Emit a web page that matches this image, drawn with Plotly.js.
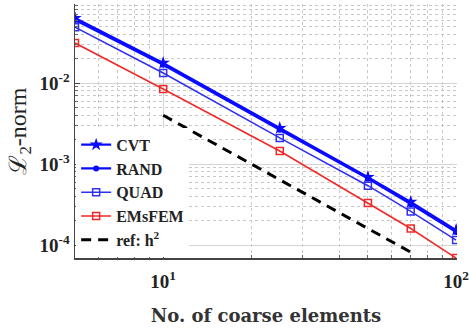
<!DOCTYPE html>
<html>
<head>
<meta charset="utf-8">
<script src="https://cdn.plot.ly/plotly-3.0.1.min.js"></script>
<style>
  html, body { margin: 0; padding: 0; background: #fff; }
  #chart { width: 469px; height: 330px; }
</style>
</head>
<body>
<div id="chart"></div>
<script>
// Number of coarse elements
const elements = [5, 10, 25, 50, 70, 100];

// L2-norm error for each multiscale basis construction
const cvt    = [0.0634, 0.0177, 0.00278, 0.00069, 0.00034, 0.000153];
const rand   = [0.0600, 0.0168, 0.00265, 0.00066, 0.00032, 0.000145];
const quad   = [0.0490, 0.0133, 0.00210, 0.00054, 0.00026, 0.000115];
const emsfem = [0.0312, 0.00844, 0.00145, 0.00033, 0.00016, 0.000069];

// Reference slope h^2
const refElements = [10, 25, 50, 70];
const refValues   = [0.0040, 0.00064, 0.00016, 0.0000816];

// Decade tick labels
const xTickVals = [10, 100];
const xTickText = ['10<sup>1</sup>', '10<sup>2</sup>'];
const yTickVals = [1e-4, 1e-3, 1e-2];
const yTickText = ['10<sup>-4</sup>', '10<sup>-3</sup>', '10<sup>-2</sup>'];

// Minor grid positions (2..9 within each decade)
const xMinor = [6, 7, 8, 9, 20, 30, 40, 50, 60, 70, 80, 90];
const yMinor = [];
[1e-4, 1e-3, 1e-2].forEach(d => { for (let k = 2; k <= 9; k++) yMinor.push(k * d); });

const serif = 'Liberation Serif, Times New Roman, serif';
const wideSerif = 'DejaVu Serif, Liberation Serif, serif';

const traces = [
  { x: elements, y: cvt, name: 'CVT', mode: 'lines+markers',
    line: { color: '#0a0aff', width: 2.2 },
    marker: { symbol: 'star', size: 10, color: '#0a0aff' } },
  { x: elements, y: rand, name: 'RAND', mode: 'lines+markers',
    line: { color: '#0a0aff', width: 2.2 },
    marker: { symbol: 'circle', size: 6, color: '#0a0aff' } },
  { x: elements, y: quad, name: 'QUAD', mode: 'lines+markers',
    line: { color: '#3030f0', width: 1.5 },
    marker: { symbol: 'square-open', size: 7, color: '#3030f0', line: { width: 1.5 } } },
  { x: elements, y: emsfem, name: 'EMsFEM', mode: 'lines+markers',
    line: { color: '#f02828', width: 1.5 },
    marker: { symbol: 'square-open', size: 7, color: '#f02828', line: { width: 1.5 } } },
  { x: refElements, y: refValues, name: 'ref: h<sup>2</sup>', mode: 'lines',
    line: { color: '#000', width: 3, dash: '10px,7px' } }
];

const layout = {
  width: 469, height: 330,
  margin: { l: 75, r: 12, t: 4, b: 72 },
  paper_bgcolor: '#fff', plot_bgcolor: '#fff',
  font: { family: serif, color: '#222' },
  showlegend: true,
  legend: {
    x: 0.003, y: 0.005, xanchor: 'left', yanchor: 'bottom',
    bgcolor: '#fff', borderwidth: 0,
    font: { family: serif, size: 16, color: '#222', weight: 'bold' },
    tracegroupgap: 0, itemwidth: 30
  },
  xaxis: {
    type: 'log', range: [Math.log10(5), 2.003],
    tickmode: 'array', tickvals: xTickVals, ticktext: xTickText,
    ticks: 'inside', ticklen: 5, tickcolor: '#444', ticklabelstandoff: 6,
    ticklabeloverflow: 'allow',
    showline: true, linecolor: '#444', linewidth: 1.5, mirror: false,
    showgrid: true, gridcolor: '#d4d4d4', gridwidth: 1,
    zeroline: false,
    minor: { tickmode: 'array', tickvals: xMinor, ticks: 'inside', ticklen: 3, tickcolor: '#666',
             showgrid: true, gridcolor: '#c8c8c8', griddash: 'dot', gridwidth: 1 },
    tickfont: { family: serif, size: 19, color: '#222', weight: 'bold' },
    title: { text: 'No. of coarse elements', standoff: 18,
             font: { family: wideSerif, size: 18, color: '#333', weight: 'bold' } }
  },
  yaxis: {
    type: 'log', range: [-4.16, -1.024],
    tickmode: 'array', tickvals: yTickVals, ticktext: yTickText,
    ticks: 'inside', ticklen: 5, tickcolor: '#444',
    showline: true, linecolor: '#444', linewidth: 1.5, mirror: false,
    showgrid: true, gridcolor: '#d4d4d4', gridwidth: 1,
    zeroline: false,
    minor: { tickmode: 'array', tickvals: yMinor, ticks: 'inside', ticklen: 3, tickcolor: '#666',
             showgrid: true, gridcolor: '#c8c8c8', griddash: 'dot', gridwidth: 1 },
    tickfont: { family: serif, size: 19, color: '#222', weight: 'bold' },
    title: { text: 'ℒ<sub>2</sub>-norm', standoff: 6,
             font: { family: serif, size: 24, color: '#222' } }
  }
};

Plotly.newPlot('chart', traces, layout, { displayModeBar: false, staticPlot: true });
</script>
</body>
</html>
